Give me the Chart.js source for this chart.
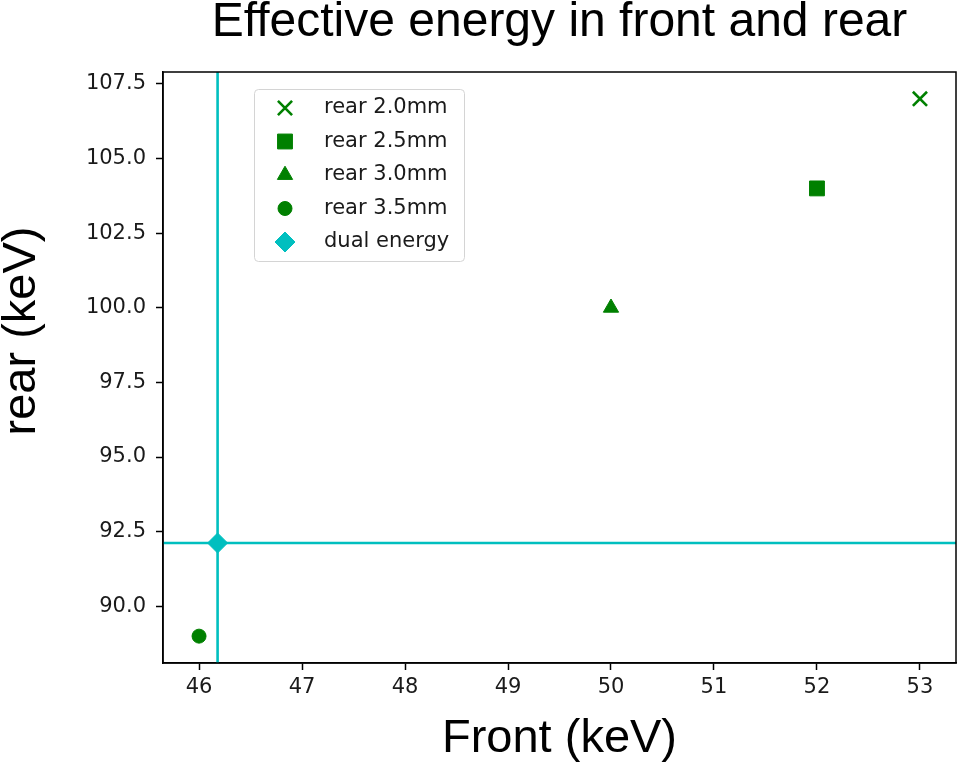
<!DOCTYPE html>
<html>
<head>
<meta charset="utf-8">
<title>Effective energy in front and rear</title>
<script src="https://cdn.jsdelivr.net/npm/chart.js@4/dist/chart.umd.min.js"></script>
<style>
  html, body { margin: 0; padding: 0; background: #ffffff; }
  canvas { display: block; }
</style>
</head>
<body>
<canvas id="chart" width="959" height="767"></canvas>
<script>
// Measured effective energies (keV) for each rear filter thickness
const seriesLabels = ['rear 2.0mm', 'rear 2.5mm', 'rear 3.0mm', 'rear 3.5mm'];
const frontValues  = [53, 52, 50, 46];
const rearValues   = [107, 104, 100, 89];

// Dual-energy operating point (also marked by the two reference lines)
const dualLabel = 'dual energy';
const dualFront = 46.18;
const dualRear  = 92.12;

// Tick positions
const xTicks = [46, 47, 48, 49, 50, 51, 52, 53];
const yTicks = [90, 92.5, 95, 97.5, 100, 102.5, 105, 107.5];

// Marker shapes per series
const seriesMarkers = ['crossRot', 'rect', 'triangle', 'circle'];
const seriesRadius  = [10, 10.5, 8.8, 7];

const GREEN = '#008000';
const CYAN = '#00bfbf';
const TICK_FONT = { family: 'DejaVu Sans', size: 21 };
const BIG_FONT = { family: 'Liberation Sans', size: 47, lineHeight: 1, weight: 'normal' };
const TITLE_FONT = { family: 'Liberation Sans', size: 48, lineHeight: 1, weight: 'normal' };

// Axis limits with a 5% margin around the scatter data
function padRange(vals) {
  const lo = Math.min(...vals), hi = Math.max(...vals);
  const m = (hi - lo) * 0.05;
  return [lo - m, hi + m];
}
const xRange = padRange(frontValues);
const yRange = padRange(rearValues);

const datasets = seriesLabels.map((label, i) => ({
  label,
  data: [{ x: frontValues[i], y: rearValues[i] }],
  pointStyle: seriesMarkers[i],
  pointRadius: seriesRadius[i],
  pointHoverRadius: seriesRadius[i],
  backgroundColor: GREEN,
  borderColor: GREEN,
  pointBorderWidth: seriesMarkers[i] === 'crossRot' ? 2.6 : 1,
  showLine: false,
  inLegend: true,
  order: 1
}));

datasets.push({
  label: dualLabel,
  data: [{ x: dualFront, y: dualRear }],
  pointStyle: 'rectRot',
  pointRadius: 10,
  pointHoverRadius: 10,
  backgroundColor: CYAN,
  borderColor: CYAN,
  pointBorderWidth: 1,
  showLine: false,
  inLegend: true,
  order: 0
});

// Vertical and horizontal reference lines through the dual-energy point
datasets.push({
  label: 'front line',
  data: [{ x: dualFront, y: yRange[0] }, { x: dualFront, y: yRange[1] }],
  showLine: true,
  borderColor: CYAN,
  borderWidth: 2.6,
  pointRadius: 0,
  inLegend: false,
  order: 2
});
datasets.push({
  label: 'rear line',
  data: [{ x: xRange[0], y: dualRear }, { x: xRange[1], y: dualRear }],
  showLine: true,
  borderColor: CYAN,
  borderWidth: 2.6,
  pointRadius: 0,
  inLegend: false,
  order: 2
});

// Frame around the plotting area, rotated y-axis title and the in-plot legend
const framePlugin = {
  id: 'frame',
  afterDatasetsDraw(chart, args, opts) {
    const { ctx, chartArea: a } = chart;
    ctx.save();

    // legend box
    const lg = opts.legend;
    const items = chart.data.datasets.filter(d => d.inLegend);
    ctx.beginPath();
    ctx.roundRect(lg.left, lg.top, lg.width, lg.height, 4);
    ctx.fillStyle = 'rgba(255,255,255,0.8)';
    ctx.fill();
    ctx.strokeStyle = '#d4d4d4';
    ctx.lineWidth = 1;
    ctx.stroke();
    items.forEach((d, i) => {
      const y = lg.firstRow + i * lg.rowGap;
      ctx.fillStyle = d.backgroundColor;
      ctx.strokeStyle = d.borderColor;
      ctx.lineWidth = d.pointBorderWidth;
      Chart.helpers.drawPoint(ctx, {
        pointStyle: d.pointStyle,
        radius: d.pointRadius,
        rotation: 0,
        borderWidth: d.pointBorderWidth
      }, lg.markerX, y);
      ctx.fillStyle = '#1a1a1a';
      ctx.font = `${TICK_FONT.size}px "${TICK_FONT.family}"`;
      ctx.textAlign = 'left';
      ctx.textBaseline = 'middle';
      ctx.fillText(d.label, lg.textX, y);
    });

    // frame
    ctx.strokeStyle = '#000';
    ctx.lineWidth = 1.5;
    ctx.strokeRect(a.left, a.top, a.right - a.left, a.bottom - a.top);
    ctx.restore();
  },
  afterDraw(chart, args, opts) {
    const { ctx } = chart;
    const t = opts.yTitle;
    ctx.save();
    ctx.translate(t.x, t.y);
    ctx.rotate(-Math.PI / 2);
    ctx.font = `${BIG_FONT.size}px "${BIG_FONT.family}"`;
    ctx.fillStyle = '#000';
    ctx.textAlign = 'center';
    ctx.textBaseline = 'middle';
    ctx.fillText(t.text, 0, 0);
    ctx.restore();
  }
};

new Chart(document.getElementById('chart'), {
  type: 'scatter',
  data: { datasets },
  plugins: [framePlugin],
  options: {
    responsive: false,
    animation: false,
    devicePixelRatio: 1,
    layout: { autoPadding: false, padding: { left: 0, right: 3, top: 0, bottom: 0 } },
    plugins: {
      legend: { display: false },
      tooltip: { enabled: false },
      title: {
        display: true,
        text: 'Effective energy in front and rear',
        fullSize: false,
        color: '#000',
        font: TITLE_FONT,
        padding: { top: -1, bottom: 25 }
      },
      frame: {
        legend: { left: 254.5, top: 89.5, width: 210, height: 172, markerX: 285, textX: 324, firstRow: 108, rowGap: 33.5 },
        yTitle: { text: 'rear (keV)', x: 22, y: 331 }
      }
    },
    scales: {
      x: {
        type: 'linear',
        min: xRange[0],
        max: xRange[1],
        afterBuildTicks: s => { s.ticks = xTicks.map(v => ({ value: v })); },
        afterFit: s => { s.height = 104; s.paddingLeft = 0; s.paddingRight = 0; },
        ticks: { color: '#1a1a1a', font: TICK_FONT, padding: 5, callback: v => String(v) },
        grid: { display: true, drawOnChartArea: false, drawTicks: true, tickLength: 7, tickColor: '#000', tickWidth: 1.5 },
        border: { display: true, color: '#000', width: 1.5 },
        title: { display: true, text: 'Front (keV)', color: '#000', font: BIG_FONT, padding: { top: 0, bottom: 4 } }
      },
      y: {
        type: 'linear',
        min: yRange[0],
        max: yRange[1],
        afterBuildTicks: s => { s.ticks = yTicks.map(v => ({ value: v })); },
        afterFit: s => { s.width = 163; s.paddingTop = 0; s.paddingBottom = 0; },
        ticks: { color: '#1a1a1a', font: TICK_FONT, padding: 10, callback: v => v.toFixed(1) },
        grid: { display: true, drawOnChartArea: false, drawTicks: true, tickLength: 7, tickColor: '#000', tickWidth: 1.5 },
        border: { display: true, color: '#000', width: 1.5 }
      }
    }
  }
});
</script>
</body>
</html>
